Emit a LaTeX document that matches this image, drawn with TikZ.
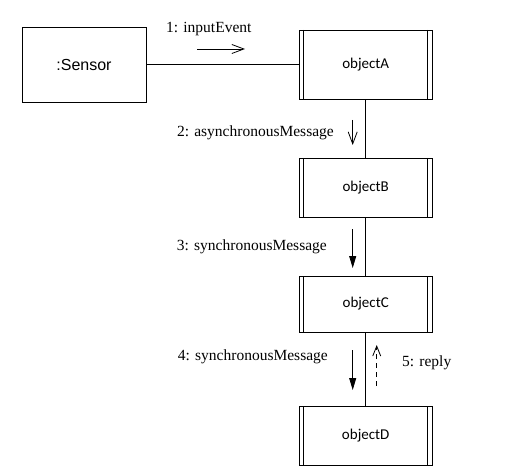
\documentclass[tikz,border=0pt]{standalone}
\usepackage{fontspec}
\setmainfont{Liberation Serif}
\newfontfamily\arialf{Liberation Sans}
\newfontfamily\calf{Carlito}
\usetikzlibrary{arrows.meta}
\tikzset{
  objbox/.style={draw, line width=0.8pt, minimum width=133pt, inner sep=0pt, font=\calf\fontsize{15}{18}\selectfont,
    path picture={\draw[line width=0.8pt] ([xshift=4.6pt]path picture bounding box.north west) -- ([xshift=4.6pt]path picture bounding box.south west);
                  \draw[line width=0.8pt] ([xshift=-4.6pt]path picture bounding box.north east) -- ([xshift=-4.6pt]path picture bounding box.south east);}},
  plainbox/.style={draw, line width=0.8pt, inner sep=0pt, font=\arialf\fontsize{16}{19}\selectfont},
  link/.style={line width=0.8pt},
  lbl/.style={inner sep=0pt, font=\fontsize{15.5}{18}\selectfont},
  openarr/.style={line width=0.8pt, -{Straight Barb[length=12pt,width=9pt,line width=0.8pt]}},
  filledarr/.style={line width=0.8pt, -{Triangle[length=12pt,width=7pt]}},
  replyarr/.style={line width=0.8pt, dash pattern=on 5pt off 4pt, -{Straight Barb[length=10pt,width=8pt,line width=0.8pt]}},
}
\begin{document}
\begin{tikzpicture}[x=1pt,y=-1pt]
\useasboundingbox (0,0) rectangle (505,470);
\node[plainbox, minimum width=124pt, minimum height=75pt] (sensor) at (84,64.5) {:Sensor};
\node[objbox, minimum height=69pt] (A) at (365.7,64.5) {objectA};
\node[objbox, minimum height=59pt] (B) at (365.7,187.5) {objectB};
\node[objbox, minimum height=56pt] (C) at (365.7,304) {objectC};
\node[objbox, minimum height=59pt] (D) at (365.7,435.5) {objectD};
\draw[link] (sensor.east) -- (A.west);
\draw[link] (A.south) -- (B.north);
\draw[link] (B.south) -- (C.north);
\draw[link] (C.south) -- (D.north);
% messages
\node[lbl, anchor=south west] (m1) at (166,36) {1: inputEvent};
\coordinate (m1s) at (197,49);
\coordinate (m1e) at (245,49);
\draw[openarr] (m1s) -- (m1e);
\node[lbl, anchor=east] (m2) at (334,133) {2: asynchronousMessage};
\coordinate (m2s) at (352.7,120);
\coordinate (m2e) at (352.7,145);
\draw[openarr] (m2s) -- (m2e);
\node[lbl, anchor=east] (m3) at (327,247) {3: synchronousMessage};
\coordinate (m3s) at (352.7,229);
\coordinate (m3e) at (352.7,268);
\draw[filledarr] (m3s) -- (m3e);
\node[lbl, anchor=east] (m4) at (328,357) {4: synchronousMessage};
\coordinate (m4s) at (352.7,350);
\coordinate (m4e) at (352.7,390);
\draw[filledarr] (m4s) -- (m4e);
\node[lbl, anchor=west] (m5) at (402,363) {5: reply};
\coordinate (m5s) at (376.7,386);
\coordinate (m5e) at (376.7,345);
\draw[replyarr] (m5s) -- (m5e);
\end{tikzpicture}
\end{document}
